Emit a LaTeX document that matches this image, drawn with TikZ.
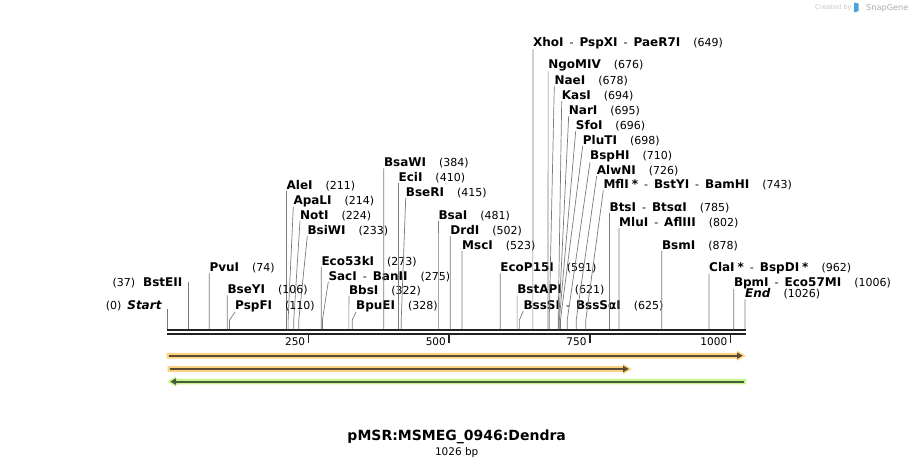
\documentclass[tikz,border=0pt]{standalone}
\usepackage{fontspec}
\setmainfont{DejaVu Sans}
\usetikzlibrary{positioning}
\definecolor{seqline}{HTML}{222222}
\definecolor{cutline}{HTML}{7A7A7A}
\definecolor{featorange}{HTML}{FDD27E}
\definecolor{featgreen}{HTML}{C6F48C}
\definecolor{featdark}{HTML}{5A4A36}
\definecolor{featdarkg}{HTML}{4B5A3C}
\definecolor{sglogo}{HTML}{4AA3DF}
\newcommand{\nm}[1]{{\fontsize{12}{14}\selectfont\bfseries #1}}
\newcommand{\nmi}[1]{{\fontsize{12}{14}\selectfont\bfseries\itshape #1}}
\newcommand{\dsh}{\hspace{6pt}-\hspace{6pt}}
\newcommand{\enzstar}{\hspace{3pt}*}
\tikzset{
  lbl/.style={anchor=base west, inner sep=0pt, font=\fontsize{11}{13}\selectfont},
  lblleft/.style={anchor=base east, inner sep=0pt, font=\fontsize{11}{13}\selectfont},
  cut/.style={draw=cutline, line width=0.7pt},
  seq/.style={draw=seqline, line width=2pt},
}
\begin{document}
\begin{tikzpicture}[x=1pt, y=-1pt]
  \useasboundingbox (0,0) rectangle (913,468);
  % sequence
  \coordinate (seqa) at (166.7,330);
  \coordinate (seqb) at (746,330);
  \draw[seq] (seqa) -- (seqb);
  \draw[seq] ([yshift=-4.3pt]seqa) -- ([yshift=-4.3pt]seqb);
  \foreach \tk in {250,500,750,1000} {
    \coordinate (t\tk) at ({167.7+0.5627*\tk},335);
    \draw[seqline, line width=1.6pt] (t\tk) -- ++(0,8);
    \node[anchor=east, inner sep=0pt, font=\fontsize{10.5}{12}\selectfont] (tl\tk)
      at ({164.7+0.5627*\tk},342) {\tk};
  }
  % enzymes
  \foreach \n/\p/\lx/\ly/\txt in {
    alei/211/286.4/189.4/\nm{AleI},
    apali/214/293.3/204.4/\nm{ApaLI},
    noti/224/300/219.4/\nm{NotI},
    bsiwi/233/307.3/234.4/\nm{BsiWI},
    ecoi/273/321.3/265.1/\nm{Eco53kI},
    saci/275/328.3/280.1/\nm{SacI}\dsh\nm{BanII},
    bbsi/322/348.9/294.4/\nm{BbsI},
    bpuei/328/356/309.4/\nm{BpuEI},
    bsawi/384/383.8/166.7/\nm{BsaWI},
    ecii/410/398.4/181.1/\nm{EciI},
    bseri/415/405.7/196.4/\nm{BseRI},
    bsai/481/438.4/219.4/\nm{BsaI},
    drdi/502/450.2/234.4/\nm{DrdI},
    msci/523/462/249.4/\nm{MscI},
    ecop/591/500.2/271.7/\nm{EcoP15I},
    bstapi/621/517.1/293.7/\nm{BstAPI},
    bsssi/625/523.3/309.4/\nm{BssSI}\dsh\nm{BssSαI},
    xhoi/649/532.9/46.7/\nm{XhoI}\dsh\nm{PspXI}\dsh\nm{PaeR7I},
    ngomiv/676/548.1/68.7/\nm{NgoMIV},
    naei/678/554.3/84.4/\nm{NaeI},
    kasi/694/561.7/99.4/\nm{KasI},
    nari/695/568.7/114.4/\nm{NarI},
    sfoi/696/575.7/129.4/\nm{SfoI},
    pluti/698/582.7/144.4/\nm{PluTI},
    bsphi/710/590/159.4/\nm{BspHI},
    alwni/726/596.7/174.4/\nm{AlwNI},
    mfli/743/603.3/188.7/\nm{MflI\enzstar}\dsh\nm{BstYI}\dsh\nm{BamHI},
    btsi/785/609.4/211.1/\nm{BtsI}\dsh\nm{BtsαI},
    mlui/802/619/226.1/\nm{MluI}\dsh\nm{AflIII},
    bsmi/878/661.8/249.4/\nm{BsmI},
    clai/962/709/271.1/\nm{ClaI\enzstar}\dsh\nm{BspDI\enzstar},
    bpmi/1006/733.8/286.1/\nm{BpmI}\dsh\nm{Eco57MI},
    endl/1026/745/297.7/\nmi{End},
    pvui/74/209.3/271.7/\nm{PvuI},
    bseyi/106/227.3/293.7/\nm{BseYI},
    pspfi/110/235/309.4/\nm{PspFI}} {
    \coordinate (s\n) at ({167.7+0.5627*\p},329);
    \node[lbl] (l\n) at (\lx,\ly) {\txt\hspace{13pt}(\p)};
    \draw[cut] (l\n.south west) -- ([yshift=9pt]s\n) -- (s\n);
  }
  \coordinate (s0) at (167.7,329);
  \coordinate (s37) at (188.5,329);
  \node[lblleft] (bsteii) at (182.5,286.1) {(37)\hspace{8pt}\nm{BstEII}};
  \node[lblleft] (start) at (161.7,309.4) {(0)\hspace{6pt}\nmi{Start}};
  \draw[cut] (s37 |- bsteii.east) -- (s37);
  \draw[cut] (s0 |- start.base east) -- (s0);
  % features
  \fill[featorange] (166.7,352.9) -- (737,352.9) -- (737,350.6) -- (745.7,355.7)
    -- (737,360.8) -- (737,358.5) -- (166.7,358.5) -- cycle;
  \draw[featdark, line width=1.8pt] (168.5,355.7) -- (738,355.7);
  \fill[featdark] (737,352.4) -- (742.6,355.7) -- (737,359) -- cycle;
  \fill[featorange] (167.7,366.2) -- (623,366.2) -- (623,363.9) -- (631.7,369)
    -- (623,374.1) -- (623,371.8) -- (167.7,371.8) -- cycle;
  \draw[featdark, line width=1.8pt] (169.5,369) -- (624,369);
  \fill[featdark] (623,365.7) -- (628.6,369) -- (623,372.3) -- cycle;
  \fill[featgreen] (746,378.8) -- (176,378.8) -- (176,376.5) -- (167.3,381.6)
    -- (176,386.7) -- (176,384.4) -- (746,384.4) -- cycle;
  \draw[featdarkg, line width=1.8pt] (744.2,381.6) -- (175,381.6);
  \fill[featdarkg] (176,378.3) -- (170.4,381.6) -- (176,384.9) -- cycle;
  % title
  \node[inner sep=0pt, font=\fontsize{14}{16}\selectfont\bfseries] (title)
    at (456.7,437) {pMSR:MSMEG\_0946:Dendra};
  \node[inner sep=0pt, font=\fontsize{10.5}{12}\selectfont, anchor=north] (size)
    at (456.7,447) {1026 bp};
  % watermark
  \node[anchor=east, inner sep=0pt, text=gray!45, font=\fontsize{6.6}{8}\selectfont] (crby)
    at (851.7,8) {Created by};
  \fill[sglogo] (854,2.5) -- (858.5,3.5) -- (858.5,11) -- (854,12.5) -- cycle;
  \node[anchor=west, inner sep=0pt, text=gray!65, font=\fontsize{8.2}{10}\selectfont] (sg)
    at (866,8) {SnapGene};
\end{tikzpicture}
\end{document}
